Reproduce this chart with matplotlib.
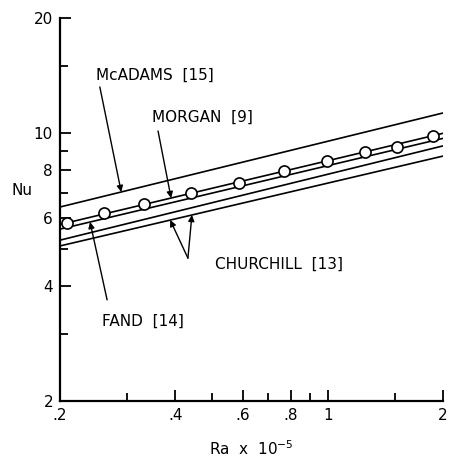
import numpy as np
import matplotlib
matplotlib.use("Agg")
import matplotlib.pyplot as plt
from matplotlib.ticker import FixedLocator, FixedFormatter, NullFormatter

# correlations, straight lines on log-log: Nu at Ra*1e-5 = 0.2 and 2
ra_ends = [0.2, 2.0]
mcadams = [6.42, 11.3]
morgan = [5.78, 10.0]
fand = [5.62, 9.7]
churchill_hi = [5.26, 9.27]
churchill_lo = [5.08, 8.72]

# open circles on the Morgan curve
ra_pts = [0.2085, 0.260, 0.331, 0.440, 0.586, 0.769, 0.995, 1.25, 1.52, 1.88]
nu_pts = [5.83, 6.19, 6.54, 6.98, 7.42, 7.97, 8.47, 8.93, 9.21, 9.84]

x_major = [0.2, 0.4, 0.6, 0.8, 1.0, 2.0]
x_labels = ['.2', '.4', '.6', '.8', '1', '2']
x_minor = [0.3, 0.5, 0.7, 0.9, 1.5]
y_major = [2, 4, 6, 8, 10, 20]
y_labels = ['2', '4', '6', '8', '10', '20']
y_minor = [3, 5, 7, 9, 15]


def loglin(ends, x):
    # value of a straight log-log line at x
    lx = np.log10(x / ra_ends[0]) / np.log10(ra_ends[1] / ra_ends[0])
    return 10 ** (np.log10(ends[0]) + lx * (np.log10(ends[1]) - np.log10(ends[0])))


fig = plt.figure(figsize=(4.55, 4.61), dpi=100)
ax = fig.add_axes([60 / 455, 60 / 461, 383 / 455, 383 / 461])
ax.set_xscale('log')
ax.set_yscale('log')
ax.set_xlim(0.2, 2)
ax.set_ylim(2, 20)

for ends in [mcadams, fand, churchill_hi, churchill_lo]:
    ax.plot(ra_ends, ends, color='black', lw=1.2)
ax.plot(ra_ends, morgan, color='black', lw=1.2)
ax.plot(ra_pts, nu_pts, 'o', ms=8, mfc='white', mec='black', mew=1.2, clip_on=False)

# axes styling
for s in ['top', 'right']:
    ax.spines[s].set_visible(False)
for s in ['left', 'bottom']:
    ax.spines[s].set_linewidth(1.6)

ax.xaxis.set_major_locator(FixedLocator(x_major))
ax.xaxis.set_major_formatter(FixedFormatter(x_labels))
ax.xaxis.set_minor_locator(FixedLocator(x_minor))
ax.xaxis.set_minor_formatter(NullFormatter())
ax.yaxis.set_major_locator(FixedLocator(y_major))
ax.yaxis.set_major_formatter(FixedFormatter(y_labels))
ax.yaxis.set_minor_locator(FixedLocator(y_minor))
ax.yaxis.set_minor_formatter(NullFormatter())
ax.tick_params(which='major', direction='in', length=8, width=1.3, labelsize=11)
ax.tick_params(axis='x', which='major', pad=5)
ax.tick_params(axis='y', which='major', pad=5)
ax.tick_params(which='minor', direction='in', length=6, width=1.3)

ax.set_xlabel(r'Ra  x  10$^{-5}$', fontsize=11, labelpad=12)
ax.set_ylabel('Nu', rotation=0, fontsize=11)
ax.yaxis.set_label_coords(-0.099, 0.53)

arrow = dict(arrowstyle='-|>', color='black', lw=1.0, mutation_scale=9,
             shrinkA=0, shrinkB=0)
tf = dict(fontsize=11, ha='center', va='center')

ax.annotate('', xy=(0.289, loglin(mcadams, 0.289)), xytext=(0.104, 0.820),
            textcoords='axes fraction', arrowprops=arrow)
ax.text(0.248, 0.851, 'McADAMS  [15]', transform=ax.transAxes, **tf)

ax.annotate('', xy=(0.39, loglin(morgan, 0.39)), xytext=(0.256, 0.705),
            textcoords='axes fraction', arrowprops=arrow)
ax.text(0.371, 0.742, 'MORGAN  [9]', transform=ax.transAxes, **tf)

ax.annotate('', xy=(0.388, loglin(churchill_lo, 0.388)), xytext=(0.334, 0.373),
            textcoords='axes fraction', arrowprops=arrow)
ax.annotate('', xy=(0.442, loglin(churchill_lo, 0.442)), xytext=(0.334, 0.373),
            textcoords='axes fraction', arrowprops=arrow)
ax.text(0.572, 0.358, 'CHURCHILL  [13]', transform=ax.transAxes, **tf)

ax.annotate('', xy=(0.2396, loglin(fand, 0.2396)), xytext=(0.123, 0.264),
            textcoords='axes fraction', arrowprops=arrow)
ax.text(0.217, 0.209, 'FAND  [14]', transform=ax.transAxes, **tf)

fig.savefig('out.png', dpi=100)
